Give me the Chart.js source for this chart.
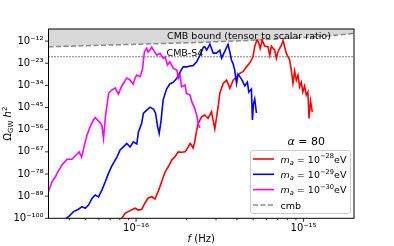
<!DOCTYPE html>
<html>
<head>
<meta charset="utf-8">
<script src="https://cdn.jsdelivr.net/npm/chart.js@4.4.0/dist/chart.umd.min.js"></script>
<style>
  html, body { margin: 0; padding: 0; background: #fff; }
</style>
</head>
<body>
<canvas id="grafica" width="394" height="246"></canvas>
<script>
// ========================================================
// DATOS: frecuencia (Hz) y log10(Ω_GW h²)
// ========================================================
const freq30 = [3.0e-17, 3.15e-17, 3.30e-17, 3.37e-17, 3.53e-17, 3.61e-17, 3.87e-17, 4.14e-17, 4.44e-17, 4.57e-17,
  4.73e-17, 4.92e-17, 5.09e-17, 5.32e-17, 5.57e-17, 5.70e-17, 5.97e-17, 6.25e-17, 6.39e-17, 6.58e-17,
  6.77e-17, 6.86e-17, 7.17e-17, 7.50e-17, 7.84e-17, 8.22e-17, 8.80e-17, 9.21e-17, 9.63e-17, 9.86e-17,
  1.01e-16, 1.056e-16, 1.09e-16, 1.12e-16, 1.158e-16, 1.18e-16, 1.21e-16, 1.24e-16, 1.27e-16, 1.33e-16,
  1.39e-16, 1.45e-16, 1.49e-16, 1.54e-16, 1.59e-16, 1.67e-16, 1.75e-16, 1.79e-16, 1.83e-16, 1.87e-16,
  1.96e-16, 2.00e-16, 2.10e-16, 2.15e-16, 2.24e-16, 2.30e-16, 2.35e-16, 2.40e-16];
const logOmega30 = [-86.8, -81.8, -79.5, -77.7, -75.0, -73.5, -70.7, -70.7, -68.1, -67.0,
  -69.6, -63.6, -58.7, -54.5, -51.2, -50.0, -51.7, -53.7, -60.3, -48.7,
  -41.3, -37.8, -36.3, -35.2, -38.3, -34.3, -30.4, -31.4, -33.3, -30.4,
  -28.9, -29.7, -26.4, -17.5, -15.6, -17.5, -16.5, -15.0, -16.5, -19.0,
  -18.1, -20.6, -19.8, -23.9, -22.3, -25.6, -26.4, -30.5, -28.9, -34.7,
  -33.8, -38.0, -38.8, -42.1, -45.4, -48.7, -52.9, -55.2];

const freq29 = [3.63e-17, 3.95e-17, 4.23e-17, 4.53e-17, 4.75e-17, 4.97e-17, 5.20e-17, 5.45e-17, 5.70e-17, 5.97e-17,
  6.25e-17, 6.54e-17, 6.84e-17, 7.17e-17, 7.68e-17, 8.03e-17, 8.40e-17, 8.80e-17, 9.21e-17, 9.63e-17,
  1.01e-16, 1.032e-16, 1.081e-16, 1.105e-16, 1.158e-16, 1.21e-16, 1.27e-16, 1.306e-16, 1.343e-16, 1.374e-16,
  1.409e-16, 1.45e-16, 1.52e-16, 1.59e-16, 1.67e-16, 1.75e-16, 1.83e-16, 1.91e-16, 2.00e-16, 2.10e-16,
  2.19e-16, 2.30e-16, 2.40e-16, 2.52e-16, 2.57e-16, 2.64e-16, 2.76e-16, 2.89e-16, 3.02e-16, 3.16e-16,
  3.24e-16, 3.39e-16, 3.54e-16, 3.63e-16, 3.71e-16, 3.80e-16, 3.88e-16, 3.98e-16, 4.06e-16, 4.26e-16,
  4.35e-16, 4.46e-16, 4.62e-16, 4.71e-16, 4.88e-16, 4.95e-16, 5.02e-16, 5.11e-16, 5.23e-16];
const logOmega29 = [-101.3, -99.2, -96.7, -95.5, -94.2, -95.0, -93.4, -90.1, -88.4, -89.4,
  -86.0, -82.0, -77.7, -74.0, -69.6, -66.1, -64.5, -62.8, -64.6, -62.0,
  -63.1, -57.2, -52.7, -47.9, -46.3, -44.8, -45.8, -47.7, -54.2, -57.8,
  -51.7, -41.3, -35.8, -33.3, -32.4, -30.5, -27.4, -24.8, -24.8, -24.4,
  -24.2, -22.3, -19.2, -15.0, -14.8, -16.5, -13.5, -18.0, -18.0, -16.5,
  -20.4, -17.0, -13.7, -17.5, -21.4, -23.4, -26.4, -33.0, -28.4, -30.9,
  -32.4, -34.3, -32.4, -37.3, -35.8, -51.2, -43.3, -40.8, -47.7];

const freq28 = [8.03e-17, 8.60e-17, 9.21e-17, 9.86e-17, 1.032e-16, 1.081e-16, 1.131e-16, 1.18e-16, 1.24e-16, 1.297e-16,
  1.357e-16, 1.422e-16, 1.49e-16, 1.557e-16, 1.63e-16, 1.707e-16, 1.786e-16, 1.87e-16, 1.96e-16, 2.048e-16,
  2.105e-16, 2.19e-16, 2.24e-16, 2.30e-16, 2.35e-16, 2.46e-16, 2.57e-16, 2.69e-16, 2.82e-16, 2.95e-16,
  3.09e-16, 3.16e-16, 3.31e-16, 3.47e-16, 3.63e-16, 3.80e-16, 3.98e-16, 4.16e-16, 4.35e-16, 4.56e-16,
  4.77e-16, 4.99e-16, 5.11e-16, 5.27e-16, 5.40e-16, 5.51e-16, 5.66e-16, 5.86e-16, 6.13e-16, 6.28e-16,
  6.42e-16, 6.72e-16, 6.88e-16, 7.03e-16, 7.37e-16, 7.55e-16, 7.71e-16, 7.89e-16, 8.26e-16, 8.45e-16,
  8.64e-16, 8.84e-16, 9.05e-16, 9.25e-16, 9.47e-16, 9.69e-16, 9.90e-16, 1.014e-15, 1.038e-15, 1.061e-15,
  1.078e-15, 1.101e-15, 1.127e-15];
const logOmega28 = [-101.3, -97.5, -96.2, -95.0, -95.9, -95.5, -92.4, -89.9, -89.3, -90.4,
  -86.5, -81.8, -76.9, -74.4, -71.1, -69.4, -67.0, -67.2, -67.0, -64.6,
  -62.8, -65.1, -62.0, -56.2, -52.9, -49.6, -48.7, -50.4, -47.1, -55.7,
  -44.6, -38.0, -33.0, -31.4, -35.5, -31.4, -29.7, -28.0, -27.2, -24.8,
  -22.9, -19.8, -14.5, -11.5, -12.8, -15.6, -11.5, -14.5, -14.8, -19.0,
  -14.5, -16.5, -20.6, -17.3, -14.0, -11.8, -14.8, -18.1, -21.4, -26.4,
  -32.9, -26.9, -31.4, -28.9, -34.7, -32.4, -37.2, -34.3, -38.8, -37.3,
  -50.4, -41.8, -47.1];

// cota CMB (razón tensor/escalar) y sensibilidad CMB-S4
const cmbFreq = [3.0e-17, 8.6e-17, 2.4e-16, 4.77e-16, 9.47e-16, 1.43e-15, 2.0e-15];
const cmbLogOmega = [-14.84, -13.75, -12.66, -11.66, -10.37, -9.38, -8.19];
const s4LogOmega = -19.8;

// ejes
const xMin = 3e-17, xMax = 2e-15;
const yMin = 1e-100, yMax = 1e-6;
const yTickExps = [-100, -89, -78, -67, -56, -45, -34, -23, -12];
const xTicks = [4e-17, 5e-17, 6e-17, 7e-17, 8e-17, 9e-17, 1e-16, 2e-16, 3e-16, 4e-16,
  5e-16, 6e-16, 7e-16, 8e-16, 9e-16, 1e-15];
const massExps = ['−28', '−29', '−30'];
const colores = ['#ff0000', '#0000ff', '#ff00ff'];

const FUENTE = '"DejaVu Sans"';
Chart.defaults.font.family = FUENTE;

const SUP = { '-': '⁻', '0': '⁰', '1': '¹', '2': '²', '3': '³', '4': '⁴', '5': '⁵', '6': '⁶', '7': '⁷', '8': '⁸', '9': '⁹' };
function potencia(e) {
    return '10' + String(e).split('').map(c => SUP[c]).join('');
}
function esMayor(v) {
    const l = Math.log10(v);
    return Math.abs(l - Math.round(l)) < 1e-6;
}
function puntos(fs, es) {
    return fs.map((f, i) => ({ x: f, y: Math.pow(10, es[i]) }));
}

// texto con sub/superíndices: [texto, tamaño, estilo, desplazamiento]
function escribir(ctx, partes, x, y, centrado) {
    let total = 0;
    partes.forEach(p => {
        ctx.font = `${p[2] || ''} ${p[1]}px ${FUENTE}`;
        total += ctx.measureText(p[0]).width;
    });
    let cx = centrado ? x - total / 2 : x;
    partes.forEach(p => {
        ctx.font = `${p[2] || ''} ${p[1]}px ${FUENTE}`;
        ctx.fillText(p[0], cx, y + (p[3] || 0));
        cx += ctx.measureText(p[0]).width;
    });
}

// ========================================================
// DECORACIÓN: marco, marcas, anotaciones, leyenda, títulos
// ========================================================
const decoracion = {
    id: 'decoracion',
    afterDatasetsDraw(chart) {
        const { ctx, chartArea: a, scales } = chart;
        ctx.save();
        ctx.strokeStyle = '#000';
        ctx.lineWidth = 1;
        ctx.strokeRect(a.left, a.top, a.right - a.left, a.bottom - a.top);

        // marcas de los ejes
        ctx.beginPath();
        yTickExps.forEach(e => {
            const py = scales.y.getPixelForValue(Math.pow(10, e));
            ctx.moveTo(a.left - 3.5, py);
            ctx.lineTo(a.left, py);
        });
        xTicks.forEach(v => {
            const px = scales.x.getPixelForValue(v);
            ctx.moveTo(px, a.bottom);
            ctx.lineTo(px, a.bottom + (esMayor(v) ? 3.5 : 2));
        });
        ctx.lineWidth = 0.8;
        ctx.stroke();

        ctx.fillStyle = '#000';
        ctx.textAlign = 'left';
        ctx.textBaseline = 'alphabetic';
        escribir(ctx, [['CMB bound (tensor to scalar ratio)', 9.5]], 167, 38.5);
        escribir(ctx, [['CMB-S4', 9.5]], 166.5, 55.5);
        escribir(ctx, [['α', 11, 'italic'], [' = 80', 11]], 287.5, 144.5);

        // leyenda
        const lx = 250, ly = 150, lw = 100, lh = 63;
        ctx.beginPath();
        ctx.roundRect(lx + 0.5, ly + 0.5, lw, lh, 2.5);
        ctx.fillStyle = 'rgba(255,255,255,0.8)';
        ctx.fill();
        ctx.strokeStyle = '#cccccc';
        ctx.lineWidth = 1;
        ctx.stroke();

        const filas = [159, 174.3, 189.6, 205];
        filas.forEach((fy, i) => {
            ctx.beginPath();
            ctx.moveTo(253, fy);
            ctx.lineTo(274, fy);
            if (i < 3) {
                ctx.strokeStyle = colores[i];
                ctx.lineWidth = 1.6;
                ctx.setLineDash([]);
            } else {
                ctx.strokeStyle = 'rgba(128,128,128,0.9)';
                ctx.lineWidth = 1.5;
                ctx.setLineDash([5, 2.5]);
            }
            ctx.stroke();
            ctx.setLineDash([]);
            ctx.fillStyle = '#000';
            if (i < 3) {
                escribir(ctx, [['m', 9.5, 'italic'], ['a', 6.7, 'italic', 2.2], [' = 10', 9.5],
                    [massExps[i], 6.7, '', -4.2], ['eV', 9.5]], 280.5, fy + 3.5);
            } else {
                escribir(ctx, [['cmb', 9.5]], 280.5, fy + 3.5);
            }
        });

        // títulos de los ejes
        escribir(ctx, [['f', 10, 'italic'], [' (Hz)', 10]], (a.left + a.right) / 2, 241.5, true);
        ctx.save();
        ctx.translate(11, (a.top + a.bottom) / 2);
        ctx.rotate(-Math.PI / 2);
        escribir(ctx, [['Ω', 10], ['GW', 7, '', 2.3], [' ', 10], ['h', 10, 'italic'], ['2', 7, '', -4]], 0, 0, true);
        ctx.restore();
        ctx.restore();
    }
};

const ctx = document.getElementById('grafica').getContext('2d');
new Chart(ctx, {
    type: 'line',
    data: {
        datasets: [
            { label: 'm_a = 10^-30 eV', data: puntos(freq30, logOmega30), borderColor: colores[2], borderWidth: 1.6, pointRadius: 0, tension: 0, fill: false },
            { label: 'm_a = 10^-29 eV', data: puntos(freq29, logOmega29), borderColor: colores[1], borderWidth: 1.6, pointRadius: 0, tension: 0, fill: false },
            { label: 'm_a = 10^-28 eV', data: puntos(freq28, logOmega28), borderColor: colores[0], borderWidth: 1.6, pointRadius: 0, tension: 0, fill: false },
            { label: 'cmb', data: puntos(cmbFreq, cmbLogOmega), borderColor: 'rgba(128,128,128,0.9)', borderWidth: 1.5,
              borderDash: [5, 2.5], pointRadius: 0, tension: 0, fill: 'end', backgroundColor: 'rgba(128,128,128,0.3)' },
            { label: 'CMB-S4', data: [{ x: xMin, y: Math.pow(10, s4LogOmega) }, { x: xMax, y: Math.pow(10, s4LogOmega) }],
              borderColor: '#000', borderWidth: 1, borderDash: [1, 2], pointRadius: 0, fill: false }
        ]
    },
    options: {
        responsive: false,
        animation: false,
        parsing: true,
        layout: { padding: { top: 29, right: 40, left: 0, bottom: 0 } },
        plugins: { legend: { display: false }, tooltip: { enabled: false } },
        scales: {
            x: {
                type: 'logarithmic', min: xMin, max: xMax,
                grid: { display: false, drawTicks: false },
                border: { display: false },
                afterBuildTicks: s => { s.ticks = xTicks.map(v => ({ value: v })); },
                afterFit: s => { s.height = 27.7; },
                ticks: {
                    autoSkip: false, maxRotation: 0, padding: 4, color: '#000', font: { size: 10 },
                    callback: v => esMayor(v) ? potencia(Math.round(Math.log10(v))) : ''
                }
            },
            y: {
                type: 'logarithmic', min: yMin, max: yMax,
                grid: { display: false, drawTicks: false },
                border: { display: false },
                afterBuildTicks: s => { s.ticks = yTickExps.map(e => ({ value: Math.pow(10, e) })); },
                afterFit: s => { s.width = 48.5; },
                ticks: {
                    autoSkip: false, padding: 5, color: '#000', font: { size: 10 },
                    callback: v => potencia(Math.round(Math.log10(v)))
                }
            }
        }
    },
    plugins: [decoracion]
});
</script>
</body>
</html>
